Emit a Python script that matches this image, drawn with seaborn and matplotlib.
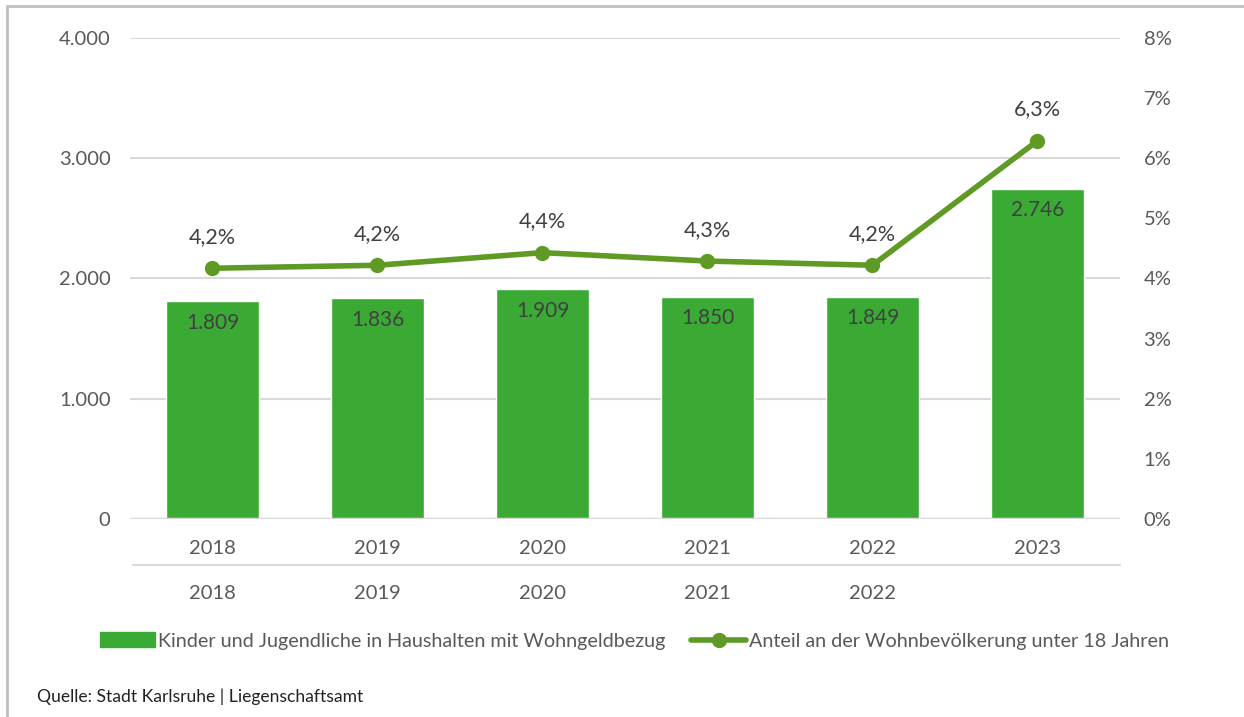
import matplotlib
matplotlib.use("Agg")
import matplotlib.pyplot as plt
import matplotlib.patches as mpatches
import matplotlib.lines as mlines
import numpy as np
import pandas as pd
import seaborn as sns

jahre = ["2018", "2019", "2020", "2021", "2022", "2023"]
jahre_zeile2 = ["2018", "2019", "2020", "2021", "2022", ""]
kinder = [1809, 1836, 1909, 1850, 1849, 2746]
anteil = [4.17, 4.22, 4.43, 4.29, 4.22, 6.29]
anteil_text = ["4,2%", "4,2%", "4,4%", "4,3%", "4,2%", "6,3%"]

label_bar = "Kinder und Jugendliche in Haushalten mit Wohngeldbezug"
label_line = "Anteil an der Wohnbevölkerung unter 18 Jahren"
quelle = "Quelle: Stadt Karlsruhe | Liegenschaftsamt"

bar_farbe = "#3aaa35"
line_farbe = "#5e9a24"
grau = "#595959"
gitter = "#d9d9d9"

sns.set_style("white")
plt.rcParams["font.family"] = ["Lato", "DejaVu Sans"]

df = pd.DataFrame({"jahr": jahre, "kinder": kinder, "anteil": anteil})

fig = plt.figure(figsize=(12.44, 7.17), dpi=100)
ax = fig.add_axes([0.1045, 0.2762, 0.7958, 0.6708])

sns.barplot(data=df, x="jahr", y="kinder", color=bar_farbe, width=0.56,
            saturation=1, ax=ax, zorder=2)
ax.set_xlim(-0.5, 5.5)
ax.set_ylim(0, 4000)
ax.set_yticks([0, 1000, 2000, 3000, 4000])
ax.set_yticklabels([f"{v:,.0f}".replace(",", ".") for v in [0, 1000, 2000, 3000, 4000]])
ax.grid(axis="y", color=gitter, lw=1.5, zorder=0)
ax.set_axisbelow(True)
for s in ax.spines.values():
    s.set_visible(False)
ax.axhline(0, color=gitter, lw=2.5, zorder=3)
ax.set_xlabel("")
ax.set_ylabel("")
ax.tick_params(axis="both", length=0, labelsize=14.5, colors=grau)
ax.tick_params(axis="y", pad=14)
ax.tick_params(axis="x", pad=15)

for i, v in enumerate(kinder):
    ax.text(i, v - 180, f"{v:,.0f}".replace(",", "."), ha="center", va="center",
            fontsize=15, color="#404040", zorder=4)

# zweite Beschriftungszeile
ax.plot([-0.48, 5.5], [-0.095, -0.095], transform=ax.get_xaxis_transform(),
        color=gitter, lw=1.5, clip_on=False)
for i, t in enumerate(jahre_zeile2):
    ax.text(i, -0.155, t, transform=ax.get_xaxis_transform(), ha="center",
            va="center", fontsize=14.5, color=grau)

ax2 = ax.twinx()
sns.lineplot(x=np.arange(len(jahre)), y=anteil, ax=ax2, color=line_farbe, lw=4,
             marker="o", markersize=11, markeredgewidth=0, zorder=5)
ax2.set_ylim(0, 8)
ax2.set_yticks(range(0, 9))
ax2.set_yticklabels([f"{v}%" for v in range(0, 9)])
ax2.tick_params(axis="y", length=0, labelsize=14.5, colors=grau, pad=17)
for s in ax2.spines.values():
    s.set_visible(False)
ax2.set_ylabel("")
for i, (v, t) in enumerate(zip(anteil, anteil_text)):
    ax2.text(i, v + 0.52, t, ha="center", va="center", fontsize=15.5, color="#404040")

h_bar = mpatches.Patch(color=bar_farbe, label=label_bar)
h_line = mlines.Line2D([], [], color=line_farbe, lw=4, marker="o", markersize=10,
                       label=label_line)
leg = fig.legend(handles=[h_bar, h_line], loc="center left",
                 bbox_to_anchor=(100 / 1244, 1 - 641 / 717),
                 ncol=2, frameon=False, fontsize=14.2, handlelength=2.8,
                 handleheight=0.75, handletextpad=0.15, columnspacing=1.3,
                 borderpad=0, borderaxespad=0)
for t in leg.get_texts():
    t.set_color(grau)

fig.text(37 / 1244, 1 - 697 / 717, quelle, fontsize=12.6, color="#222222",
         ha="left", va="center")

# Rahmen
fig.patches.append(mpatches.Rectangle((7 / 1244, -0.1), 1.2, 1 - 6 / 717 + 0.1,
                                      transform=fig.transFigure, fill=False,
                                      edgecolor="#bfbfbf", lw=2))

fig.savefig("out.png", dpi=100)
